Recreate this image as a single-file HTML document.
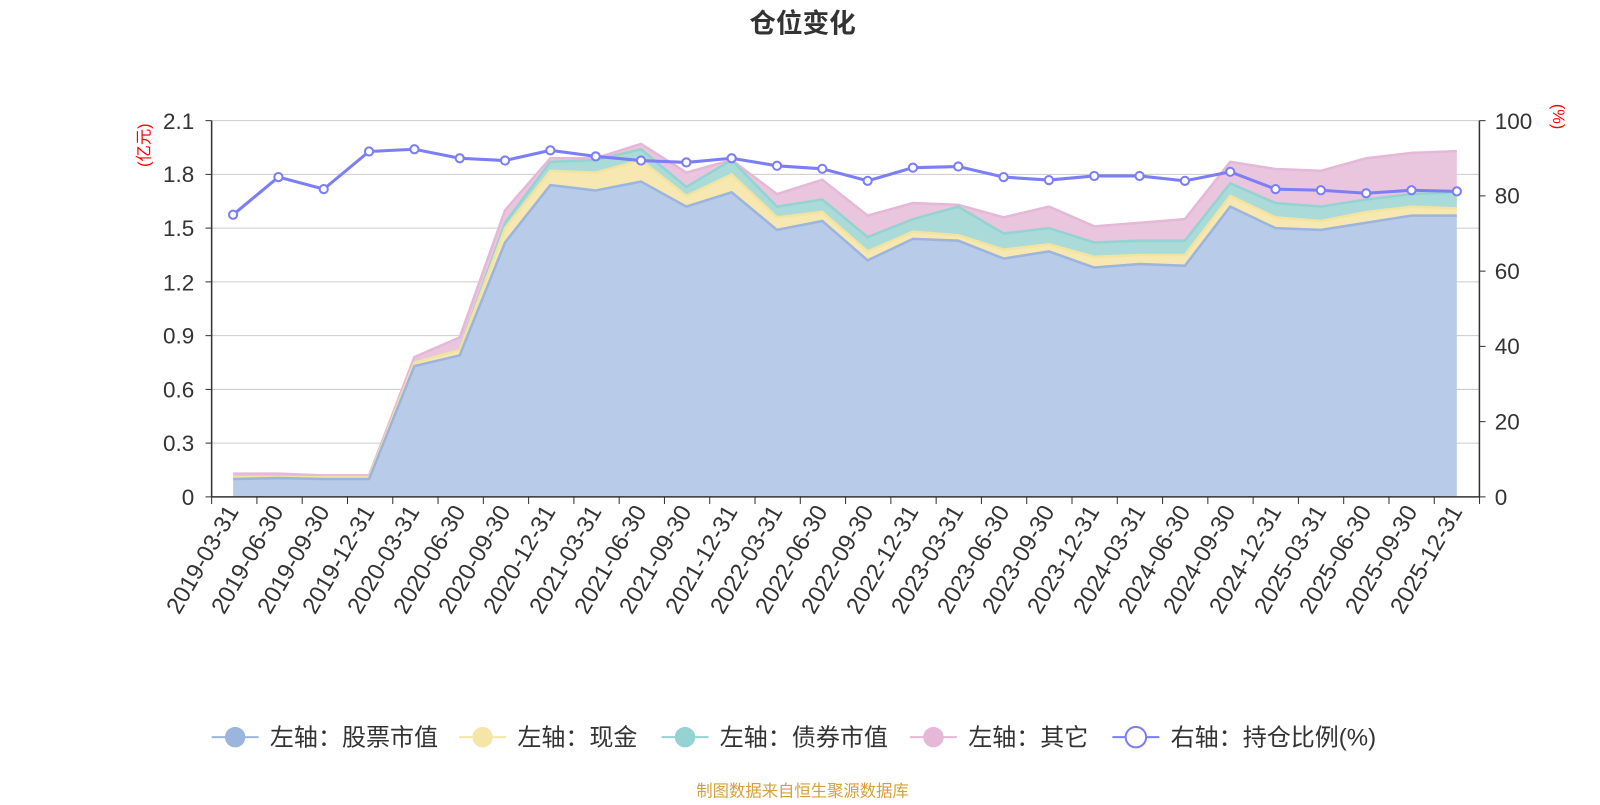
<!DOCTYPE html>
<html><head><meta charset="utf-8"><style>
body{margin:0;background:#fff;width:1600px;height:800px;overflow:hidden;font-family:"Liberation Sans","Noto Sans CJK SC",sans-serif}
</style></head><body>
<svg width="1600" height="800" xmlns="http://www.w3.org/2000/svg" font-family="Liberation Sans, Noto Sans CJK SC, sans-serif">
<g transform="scale(1.0224)">
<text x="785" y="32" font-size="26" font-weight="bold" text-anchor="middle" fill="#333">仓位变化</text>
<g stroke="#ccc" stroke-width="1">
<line x1="207" x2="1447" y1="118" y2="118"/><line x1="207" x2="1447" y1="170.6" y2="170.6"/><line x1="207" x2="1447" y1="223.1" y2="223.1"/><line x1="207" x2="1447" y1="275.7" y2="275.7"/><line x1="207" x2="1447" y1="328.3" y2="328.3"/><line x1="207" x2="1447" y1="380.9" y2="380.9"/><line x1="207" x2="1447" y1="433.4" y2="433.4"/>
</g>
<g id="areas"></g>
<g stroke="#333" stroke-width="1.5"><line x1="207" x2="207" y1="118" y2="486"/><line x1="1447" x2="1447" y1="118" y2="486"/><line x1="207" x2="1447" y1="486" y2="486"/></g>
<g id="ticks" stroke="#333"></g>
<g font-size="22" fill="#333" text-anchor="end">
<text x="190" y="126">2.1</text><text x="190" y="178">1.8</text><text x="190" y="231">1.5</text><text x="190" y="284">1.2</text><text x="190" y="336">0.9</text><text x="190" y="389">0.6</text><text x="190" y="441">0.3</text><text x="190" y="494">0</text>
</g>
<g font-size="22" fill="#333">
<text x="1462" y="126">100</text><text x="1462" y="199">80</text><text x="1462" y="273">60</text><text x="1462" y="346">40</text><text x="1462" y="420">20</text><text x="1462" y="494">0</text>
</g>
<text transform="translate(146,142) rotate(-90)" font-size="16" fill="red" text-anchor="middle">(亿元)</text>
<text transform="translate(1519,114) rotate(90)" font-size="16" fill="red" text-anchor="middle">(%)</text>
<g font-size="23" fill="#333" text-anchor="end">
<text transform="translate(234,500) rotate(-60)">2019-03-31</text>
<text transform="translate(278,500) rotate(-60)">2019-06-30</text>
<text transform="translate(323,500) rotate(-60)">2019-09-30</text>
<text transform="translate(367,500) rotate(-60)">2019-12-31</text>
<text transform="translate(411,500) rotate(-60)">2020-03-31</text>
<text transform="translate(456,500) rotate(-60)">2020-06-30</text>
<text transform="translate(500,500) rotate(-60)">2020-09-30</text>
<text transform="translate(544,500) rotate(-60)">2020-12-31</text>
<text transform="translate(589,500) rotate(-60)">2021-03-31</text>
<text transform="translate(633,500) rotate(-60)">2021-06-30</text>
<text transform="translate(677,500) rotate(-60)">2021-09-30</text>
<text transform="translate(722,500) rotate(-60)">2021-12-31</text>
<text transform="translate(766,500) rotate(-60)">2022-03-31</text>
<text transform="translate(810,500) rotate(-60)">2022-06-30</text>
<text transform="translate(855,500) rotate(-60)">2022-09-30</text>
<text transform="translate(899,500) rotate(-60)">2022-12-31</text>
<text transform="translate(943,500) rotate(-60)">2023-03-31</text>
<text transform="translate(988,500) rotate(-60)">2023-06-30</text>
<text transform="translate(1032,500) rotate(-60)">2023-09-30</text>
<text transform="translate(1076,500) rotate(-60)">2023-12-31</text>
<text transform="translate(1121,500) rotate(-60)">2024-03-31</text>
<text transform="translate(1165,500) rotate(-60)">2024-06-30</text>
<text transform="translate(1209,500) rotate(-60)">2024-09-30</text>
<text transform="translate(1254,500) rotate(-60)">2024-12-31</text>
<text transform="translate(1298,500) rotate(-60)">2025-03-31</text>
<text transform="translate(1342,500) rotate(-60)">2025-06-30</text>
<text transform="translate(1387,500) rotate(-60)">2025-09-30</text>
<text transform="translate(1431,500) rotate(-60)">2025-12-31</text>
</g>
<g font-size="23.5" fill="#333">
<line x1="207" x2="253" y1="721" y2="721" stroke="#9bb5de" stroke-width="2"/><circle cx="230" cy="721" r="10" fill="#9bb5de"/><text x="264" y="729">左轴：股票市值</text>
<line x1="449" x2="495" y1="721" y2="721" stroke="#f5e6a8" stroke-width="2"/><circle cx="472" cy="721" r="10" fill="#f5e6a8"/><text x="506" y="729">左轴：现金</text>
<line x1="647" x2="693" y1="721" y2="721" stroke="#95d3d3" stroke-width="2"/><circle cx="670" cy="721" r="10" fill="#95d3d3"/><text x="704" y="729">左轴：债券市值</text>
<line x1="890" x2="936" y1="721" y2="721" stroke="#e6b8d8" stroke-width="2"/><circle cx="913" cy="721" r="10" fill="#e6b8d8"/><text x="947" y="729">左轴：其它</text>
<line x1="1088" x2="1134" y1="721" y2="721" stroke="#7b7ef5" stroke-width="2"/><circle cx="1111" cy="721" r="10" fill="#fff" stroke="#7b7ef5" stroke-width="2"/><text x="1145" y="729">右轴：持仓比例(%)</text>
</g>
<text x="785" y="779" font-size="16" fill="#d4a03a" text-anchor="middle">制图数据来自恒生聚源数据库</text>
</g>
</svg>
<script>
var s=[0.10,0.105,0.10,0.10,0.73,0.79,1.42,1.74,1.71,1.76,1.62,1.70,1.49,1.54,1.32,1.44,1.43,1.33,1.37,1.28,1.30,1.29,1.62,1.50,1.49,1.53,1.57,1.57];
var c=[0.11,0.11,0.11,0.11,0.75,0.82,1.50,1.82,1.81,1.88,1.68,1.80,1.56,1.59,1.37,1.48,1.46,1.38,1.41,1.34,1.35,1.35,1.68,1.56,1.54,1.59,1.62,1.61];
var b=[0.11,0.11,0.11,0.11,0.75,0.82,1.53,1.87,1.88,1.94,1.73,1.88,1.62,1.66,1.45,1.55,1.62,1.47,1.50,1.42,1.43,1.43,1.75,1.64,1.62,1.66,1.69,1.70];
var o=[0.13,0.13,0.12,0.12,0.78,0.89,1.60,1.89,1.89,1.97,1.81,1.88,1.69,1.77,1.57,1.64,1.63,1.56,1.62,1.51,1.53,1.55,1.87,1.83,1.82,1.89,1.92,1.93];
var r=[75,85,81.8,91.8,92.4,90,89.4,92.1,90.5,89.4,88.9,90,88,87.2,84,87.5,87.8,85,84.2,85.3,85.3,84,86.4,81.8,81.5,80.7,81.5,81.2];
var NS="http://www.w3.org/2000/svg";
function X(i){return 228+i*44.33}function Y(v){return 486-v*175.24}function R(v){return 486-v*3.68}
function el(t,a,p){var e=document.createElementNS(NS,t);for(var k in a)e.setAttribute(k,a[k]);p.appendChild(e);return e}
var g=document.getElementById('areas');
function line(a,f){var l='';a.forEach(function(v,i){l+=(i?'L':'M')+X(i)+','+f(v)});return l}
function area(top,bot,fill,stroke){var d=line(top,Y);
for(var i=bot.length-1;i>=0;i--)d+='L'+X(i)+','+Y(bot[i]);d+='Z';el('path',{d:d,fill:fill},g);
el('path',{d:line(top,Y),fill:'none',stroke:stroke,'stroke-width':2.5},g);}
area(o,b,'#e9c6de','#e6b8d8');area(b,c,'#aadbd8','#95d3d3');area(c,s,'#f6e8b0','#f3e3a0');
el('path',{d:line(s,Y)+'L'+X(27)+',486L'+X(0)+',486Z',fill:'#b8cbe8'},g);
el('path',{d:line(s,Y),fill:'none',stroke:'#9bb5de','stroke-width':2.5},g);
el('path',{d:line(r,R),fill:'none',stroke:'#7b7ef5','stroke-width':3},g);
r.forEach(function(v,i){el('circle',{cx:X(i),cy:R(v),r:4,fill:'#fff',stroke:'#7b7ef5','stroke-width':2},g)});
var t=document.getElementById('ticks');
for(var i=0;i<=28;i++){var x=207+i*44.29;el('line',{x1:x,x2:x,y1:486,y2:493},t)}
[118,191.6,265.2,338.8,412.4,486].forEach(function(y){el('line',{x1:1447,x2:1453,y1:y,y2:y},t)});
[118,170.6,223.1,275.7,328.3,380.9,433.4,486].forEach(function(y){el('line',{x1:201,x2:207,y1:y,y2:y},t)});
</script>
</body></html>
